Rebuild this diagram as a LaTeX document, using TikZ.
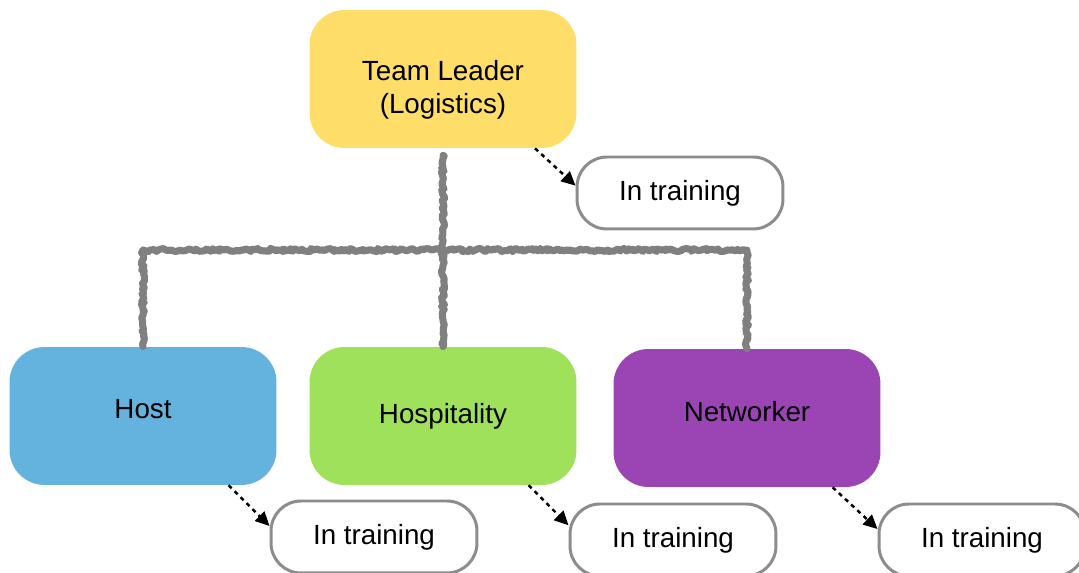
\documentclass[tikz,border=0pt]{standalone}
\usepackage{fontspec}
\setmainfont{Liberation Sans}
\usetikzlibrary{arrows.meta,decorations.pathmorphing}
\definecolor{leadyellow}{HTML}{FEDE68}
\definecolor{hostblue}{HTML}{64B3DE}
\definecolor{hospgreen}{HTML}{A0E15B}
\definecolor{netpurple}{HTML}{9B45B5}
\definecolor{boxgray}{HTML}{8C8C8E}
\definecolor{linegray}{HTML}{808080}

\begin{document}
\begin{tikzpicture}[x=0.02cm, y=-0.02cm,
  every node/.style={font=\fontsize{15.8}{18.6}\selectfont, text=black, align=center},
  role/.style={rounded corners=0.7cm, minimum width=5.34cm, minimum height=2.76cm, inner sep=0pt},
  trainee/.style={draw=boxgray, line width=1.7pt, fill=white, rounded corners=0.6cm, minimum width=4.12cm, minimum height=1.44cm, inner sep=0pt},
  rough/.style={draw=linegray, line width=4pt, line join=round, line cap=round, decorate, decoration={random steps, segment length=1.3pt, amplitude=0.9pt}},
  dotarrow/.style={draw=black, line width=1.4pt, dash pattern=on 2.4pt off 2.4pt, -{Triangle[length=8pt, width=7.5pt]}}]
\useasboundingbox (0,0) rectangle (1079,573);
\clip (0,0) rectangle (1079,573);

\node[role, fill=leadyellow] (lead) at (443,79) {\rule{0pt}{24pt}Team Leader\\(Logistics)};
\node[role, fill=hostblue] (host) at (143,416) {Host\rule[-8pt]{0pt}{8pt}};
\node[role, fill=hospgreen] (hosp) at (443,416) {Hospitality};
\node[role, fill=netpurple] (net) at (747,418) {Networker\rule[-8pt]{0pt}{8pt}};

\node[trainee] (leadtr) at (680,193) {In training};
\node[trainee] (hosttr) at (374,537) {In training};
\node[trainee] (hosptr) at (673,540) {In training};
\node[trainee] (nettr) at (982,540) {In training};

\coordinate (bus) at (443,250);
\draw[rough] ([yshift=-4pt]lead.south) -- (hosp.north);
\draw[rough] (host.north) |- (bus) -| (net.north);

\draw[dotarrow] (lead.-37) -- (leadtr.176);
\draw[dotarrow] (host.-39) -- (hosttr.174);
\draw[dotarrow] (hosp.-39) -- (hosptr.172);
\draw[dotarrow] (net.-39) -- (nettr.174);
\end{tikzpicture}
\end{document}
